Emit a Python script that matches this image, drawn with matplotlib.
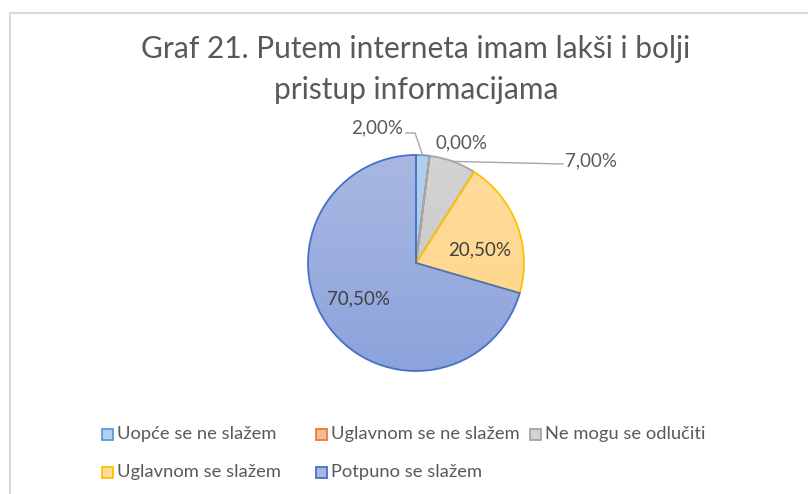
"""
Pie chart: Graf 21. Putem interneta imam lakši i bolji pristup informacijama
"""

import numpy as np
import matplotlib.pyplot as plt
from matplotlib.colors import LinearSegmentedColormap
from matplotlib.patches import Rectangle

plt.rcParams['font.family'] = ['Lato', 'DejaVu Sans']

# ----- Data -----
categories = ["Uopće se ne slažem", "Uglavnom se ne slažem", "Ne mogu se odlučiti",
              "Uglavnom se slažem", "Potpuno se slažem"]
values = [2.0, 0.0, 7.0, 20.5, 70.5]
value_labels = ["2,00%", "0,00%", "7,00%", "20,50%", "70,50%"]

edge_colors = ["#5B9BD5", "#ED7D31", "#A5A5A5", "#FFC000", "#4472C4"]
top_colors = ["#B2D0F0", "#F6BA94", "#D3D3D3", "#FFDC9C", "#A9B8E2"]
bottom_colors = ["#9FC3EA", "#F2AC80", "#C6C6C6", "#FFD486", "#8CA3DC"]

W, H = 808, 494
CX, CY, R = 416, 263, 108


def px_to_pie(px, py):
    return (px - CX) / R, (CY - py) / R


fig = plt.figure(figsize=(W / 100, H / 100), dpi=100)
fig.patch.set_facecolor("white")

# chart border (only the top and left edges are visible)
fig.patches.append(Rectangle((10 / W, -0.5), 1.2, 1.5 - 13 / H, transform=fig.transFigure,
                             fill=False, ec="#D9D9D9", lw=1.5))

fig.text(CX / W, 1 - 49 / H, "Graf 21. Putem interneta imam lakši i bolji",
         ha="center", va="center", fontsize=21.5, color="#595959")
fig.text(CX / W, 1 - 90 / H, "pristup informacijama",
         ha="center", va="center", fontsize=21.5, color="#595959")

# ----- Pie -----
ax = fig.add_axes([(CX - R) / W, (H - CY - R) / H, 2 * R / W, 2 * R / H])
wedges, _ = ax.pie(values, startangle=90, counterclock=False, radius=1,
                   wedgeprops=dict(lw=1.3))
ax.set_xlim(-1, 1)
ax.set_ylim(-1, 1)
ax.axis("off")

grad = np.linspace(0, 1, 256).reshape(-1, 1)
for w, top, bot, ec in zip(wedges, top_colors, bottom_colors, edge_colors):
    cmap = LinearSegmentedColormap.from_list("g", [top, bot])
    im = ax.imshow(grad, cmap=cmap, extent=(-1, 1, -1, 1), origin="upper",
                   aspect="auto", zorder=1)
    im.set_clip_path(w)
    w.set_facecolor("none")
    w.set_edgecolor(ec)
    w.set_zorder(2)

# data labels (positions follow the reference layout)
label_pos = [px_to_pie(377, 128), px_to_pie(462, 143), px_to_pie(591, 161),
             px_to_pie(480, 250), px_to_pie(358, 299)]
label_colors = ["#595959", "#595959", "#595959", "#404040", "#404040"]
for lab, (x, y), c in zip(value_labels, label_pos, label_colors):
    ax.text(x, y, lab, ha="center", va="center", fontsize=13.5, color=c,
            clip_on=False, zorder=5)

# leader lines, from the slice midpoint on the rim
theta = 90 - (np.cumsum(values) - np.array(values) / 2) * 3.6
rim = [(np.cos(np.radians(t)), np.sin(np.radians(t))) for t in theta]
lx, ly = px_to_pie(406, 133)
ex, ey = px_to_pie(415, 133)
ax.plot([lx, ex, rim[0][0]], [ly, ey, rim[0][1]], color="#A6A6A6", lw=1,
        clip_on=False, zorder=4)
kx, ky = px_to_pie(563, 164)
ax.plot([rim[2][0], kx], [rim[2][1], ky], color="#A6A6A6", lw=1,
        clip_on=False, zorder=4)

# ----- Legend -----
col_x = [102, 316, 530]
row_y = [434, 472]
for i, (name, top, ec) in enumerate(zip(categories, top_colors, edge_colors)):
    row, col = divmod(i, 3)
    x, y = col_x[col], row_y[row]
    fig.patches.append(Rectangle((x / W, 1 - (y + 5.5) / H), 11 / W, 11 / H,
                                 transform=fig.transFigure, fc=top, ec=ec, lw=1.3))
    fig.text((x + 15) / W, 1 - y / H, name, ha="left", va="center",
             fontsize=13.2, color="#595959")

fig.savefig("out.png", dpi=100)
